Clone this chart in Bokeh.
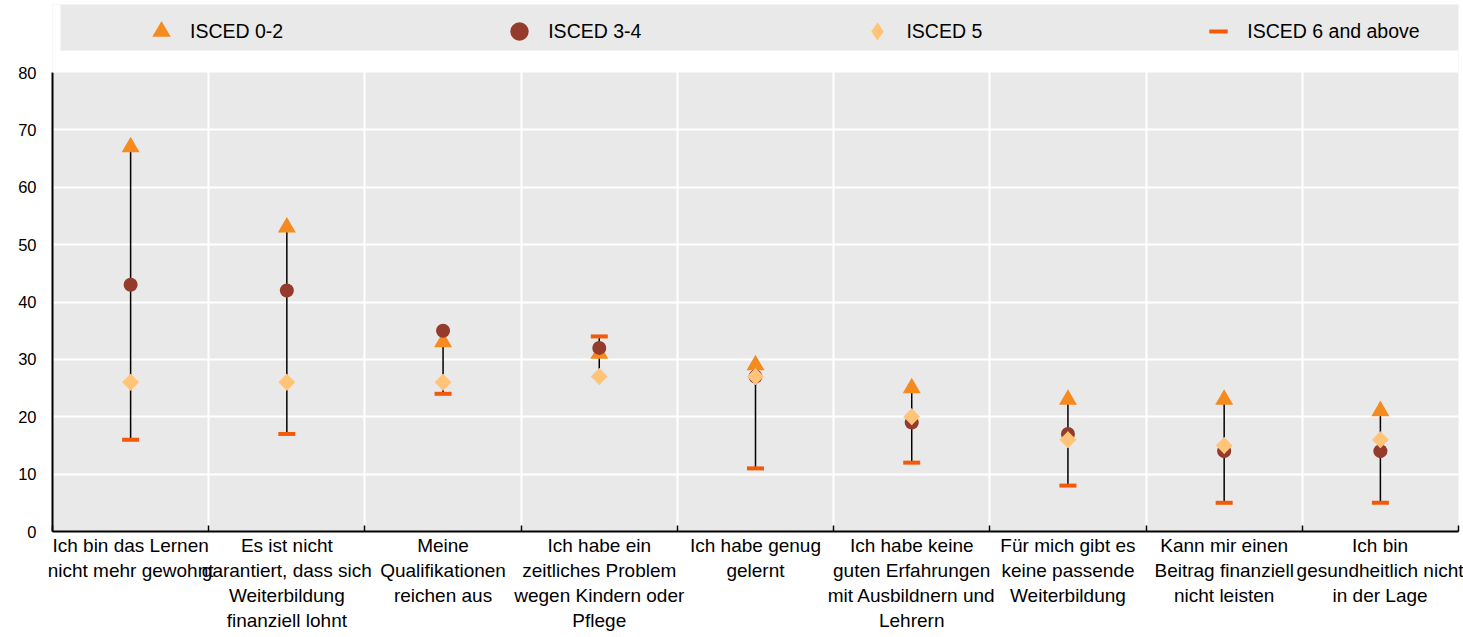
import numpy as np
from bokeh.plotting import figure
from bokeh.models import Range1d, FixedTicker, Legend, LegendItem, BoxAnnotation
from bokeh.embed import file_html
from bokeh.resources import INLINE

# ---------------- data ----------------
categories = [
    "Ich bin das Lernen\nnicht mehr gewohnt",
    "Es ist nicht\ngarantiert, dass sich\nWeiterbildung\nfinanziell lohnt",
    "Meine\nQualifikationen\nreichen aus",
    "Ich habe ein\nzeitliches Problem\nwegen Kindern oder\nPflege",
    "Ich habe genug\ngelernt",
    "Ich habe keine\nguten Erfahrungen\nmit Ausbildnern und\nLehrern",
    "Für mich gibt es\nkeine passende\nWeiterbildung",
    "Kann mir einen\nBeitrag finanziell\nnicht leisten",
    "Ich bin\ngesundheitlich nicht\nin der Lage",
]
isced_02 = [67, 53, 33, 31, 29, 25, 23, 23, 21]
isced_34 = [43, 42, 35, 32, 27, 19, 17, 14, 14]
isced_5 = [26, 26, 26, 27, 27, 20, 16, 15, 16]
isced_6 = [16, 17, 24, 34, 11, 12, 8, 5, 5]
series_names = ["ISCED 0-2", "ISCED 3-4", "ISCED 5", "ISCED 6 and above"]
y_ticks = [0, 10, 20, 30, 40, 50, 60, 70, 80]

# ---------------- styles / layout ----------------
FONT = "Liberation Sans"
GRAY = "#E9E9E9"
C_TRI = "#F58A1F"
C_CIR = "#953B2C"
C_DIA = "#FFC477"
C_DASH = "#F25A0A"

W, H = 1463, 637
B_LEFT, B_RIGHT, B_TOP, B_BOTTOM = 52, 5, 4, 106
PLOT_TOP_PX = 72          # pixel row of the top value inside the frame
STRIP = dict(left=60, right=W - B_RIGHT, top=4, bottom=50)   # legend strip, canvas px
frame_bottom = H - B_BOTTOM
y_top = y_ticks[-1] + (PLOT_TOP_PX - B_TOP) * (y_ticks[-1] - y_ticks[0]) / (frame_bottom - PLOT_TOP_PX)

xs = list(range(1, len(categories) + 1))
bounds = [i + 0.5 for i in range(0, len(categories) + 1)]
vals = np.array([isced_02, isced_34, isced_5, isced_6])
lo = vals.min(axis=0).tolist()
hi = vals.max(axis=0).tolist()

p = figure(width=W, height=H,
           x_range=Range1d(0.5, len(categories) + 0.5),
           y_range=Range1d(y_ticks[0], y_top),
           output_backend="svg", toolbar_location=None,
           min_border_left=B_LEFT, min_border_right=B_RIGHT,
           min_border_top=B_TOP, min_border_bottom=B_BOTTOM)
p.background_fill_color = GRAY
p.border_fill_color = "white"
p.outline_line_color = None

p.xgrid.ticker = FixedTicker(ticks=bounds[1:-1])
p.ygrid.ticker = FixedTicker(ticks=y_ticks[1:-1])
p.grid.grid_line_color = "white"
p.grid.grid_line_width = 2

xa = p.xaxis[0]
xa.ticker = FixedTicker(ticks=xs, minor_ticks=bounds)
xa.major_label_overrides = {x: lab for x, lab in zip(xs, categories)}
xa.major_tick_in = 0
xa.major_tick_out = 0
xa.minor_tick_in = 6
xa.minor_tick_out = 0
xa.minor_tick_line_color = "black"
xa.minor_tick_line_width = 1.5
xa.axis_line_color = "black"
xa.axis_line_width = 2
xa.major_label_text_font = FONT
xa.major_label_text_font_size = "19px"
xa.major_label_text_color = "black"
xa.major_label_standoff = 3

ya = p.yaxis[0]
ya.ticker = FixedTicker(ticks=y_ticks)
ya.bounds = (y_ticks[0], y_ticks[-1])
ya.major_tick_in = 0
ya.major_tick_out = 0
ya.minor_tick_in = 0
ya.minor_tick_out = 0
ya.axis_line_color = "black"
ya.axis_line_width = 2
ya.major_label_text_font = FONT
ya.major_label_text_font_size = "16.5px"
ya.major_label_text_color = "black"
ya.major_label_standoff = 16

p.segment(x0=xs, y0=lo, x1=xs, y1=hi, line_color="black", line_width=1.5)
r_dash = p.scatter(xs, isced_6, marker="dash", size=17, line_color=C_DASH, line_width=4)
r_tri = p.scatter(xs, isced_02, marker="triangle", size=18, fill_color=C_TRI, line_color=None)
r_cir = p.scatter(xs, isced_34, marker="circle", size=14, fill_color=C_CIR, line_color=None)
# diamond used for the legend key (hidden under the rotated squares on the plot)
r_dia = p.scatter(xs, isced_5, marker="diamond", size=17, fill_color=C_DIA, line_color=None)
p.scatter(xs, isced_5, marker="square", angle=np.pi / 4, size=12, fill_color=C_DIA, line_color=None)

# white band above the value area, then the grey legend strip on it
p.add_layout(BoxAnnotation(bottom=y_ticks[-1], fill_color="white", fill_alpha=1.0, line_color=None))
p.add_layout(BoxAnnotation(left=STRIP["left"], right=STRIP["right"], top=STRIP["top"], bottom=STRIP["bottom"],
                           left_units="canvas", right_units="canvas",
                           top_units="canvas", bottom_units="canvas",
                           fill_color=GRAY, fill_alpha=1.0, line_color=None))

GLYPH = 46
legend = Legend(
    items=[LegendItem(label=n, renderers=[r]) for n, r in zip(series_names, [r_tri, r_cir, r_dia, r_dash])],
    location=(161 - B_LEFT - GLYPH // 2, frame_bottom - STRIP["bottom"] - 4),
    orientation="horizontal",
    padding=0, margin=0, spacing=236 - GLYPH // 2,
    glyph_width=GLYPH, glyph_height=GLYPH, label_standoff=29 - GLYPH // 2,
    background_fill_alpha=0, border_line_color=None,
    label_text_font=FONT, label_text_font_size="19.5px", label_text_color="black",
)
p.add_layout(legend, "center")

open("out.html", "w").write(file_html(p, INLINE))
